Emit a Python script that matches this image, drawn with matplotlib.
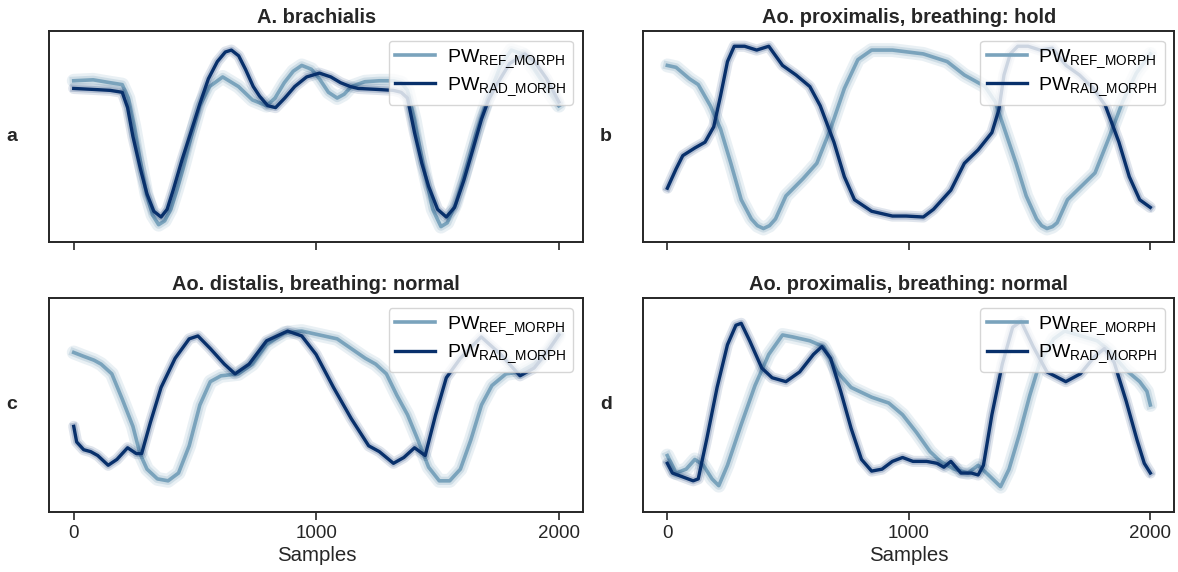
import matplotlib
matplotlib.use('Agg')
import matplotlib.pyplot as plt

plt.rcParams['font.family'] = ['Liberation Sans', 'DejaVu Sans']
plt.rcParams['mathtext.default'] = 'regular'

# sample positions / normalised amplitudes
a_ref_x = [0, 80, 150, 200, 225, 250, 275, 300, 325, 350, 375, 400, 425, 450, 485, 520, 560, 614, 679, 737, 795,
           830, 868, 905, 940, 980, 1013, 1050, 1086, 1115, 1144, 1200, 1260, 1318, 1350, 1376, 1405, 1430, 1449,
           1480, 1514, 1540, 1575, 1608, 1660, 1710, 1760, 1804, 1850, 1898, 1950, 2000]
a_ref_y = [0.79, 0.795, 0.78, 0.77, 0.70, 0.55, 0.37, 0.20, 0.09, 0.04, 0.06, 0.12, 0.22, 0.33, 0.50, 0.66, 0.76,
           0.81, 0.76, 0.69, 0.66, 0.70, 0.78, 0.84, 0.87, 0.85, 0.80, 0.73, 0.70, 0.72, 0.76, 0.785, 0.79, 0.79,
           0.78, 0.74, 0.59, 0.42, 0.30, 0.12, 0.03, 0.05, 0.15, 0.29, 0.52, 0.71, 0.87, 0.95, 0.93, 0.85, 0.75,
           0.66]
a_rad_x = [0, 80, 150, 200, 222, 244, 275, 302, 330, 360, 385, 410, 447, 485, 520, 555, 592, 625, 650, 680, 708,
           740, 766, 800, 832, 870, 911, 960, 1013, 1060, 1100, 1140, 1173, 1250, 1318, 1350, 1376, 1405, 1435,
           1463, 1500, 1536, 1570, 1608, 1645, 1681, 1710, 1739, 1797, 1860, 1900, 1950, 2000]
a_rad_y = [0.75, 0.745, 0.74, 0.73, 0.65, 0.50, 0.33, 0.20, 0.11, 0.08, 0.12, 0.22, 0.38, 0.53, 0.67, 0.80, 0.89,
           0.94, 0.95, 0.92, 0.85, 0.76, 0.71, 0.66, 0.65, 0.70, 0.76, 0.81, 0.83, 0.81, 0.78, 0.76, 0.75, 0.745,
           0.74, 0.73, 0.70, 0.52, 0.36, 0.24, 0.12, 0.08, 0.13, 0.27, 0.43, 0.59, 0.69, 0.76, 0.88, 0.93, 0.89,
           0.80, 0.68]

b_ref_x = [0, 36, 92, 128, 178, 220, 263, 306, 348, 373, 398, 423, 448, 491, 562, 619, 676, 733, 789, 846, 932,
           1060, 1159, 1230, 1273, 1316, 1358, 1401, 1444, 1486, 1529, 1550, 1572, 1595, 1614, 1657, 1714, 1771,
           1828, 1885, 1942, 2000]
b_ref_y = [0.87, 0.86, 0.80, 0.77, 0.66, 0.54, 0.36, 0.17, 0.07, 0.035, 0.02, 0.035, 0.07, 0.19, 0.28, 0.36, 0.54,
           0.75, 0.90, 0.95, 0.95, 0.93, 0.89, 0.82, 0.79, 0.76, 0.68, 0.52, 0.36, 0.19, 0.07, 0.035, 0.02, 0.03,
           0.05, 0.17, 0.24, 0.31, 0.49, 0.68, 0.83, 0.93]
b_rad_x = [0, 36, 64, 114, 156, 192, 220, 249, 277, 320, 370, 420, 477, 533, 590, 633, 690, 733, 775, 846, 932,
           989, 1060, 1102, 1174, 1230, 1287, 1344, 1373, 1394, 1420, 1451, 1494, 1544, 1594, 1651, 1707, 1764,
           1814, 1870, 1913, 1956, 2000]
b_rad_y = [0.23, 0.33, 0.40, 0.44, 0.47, 0.55, 0.71, 0.89, 0.97, 0.97, 0.95, 0.97, 0.87, 0.82, 0.76, 0.66, 0.47,
           0.29, 0.17, 0.11, 0.085, 0.085, 0.08, 0.12, 0.22, 0.36, 0.43, 0.52, 0.64, 0.82, 0.93, 0.97, 0.97, 0.95,
           0.96, 0.87, 0.82, 0.75, 0.66, 0.47, 0.29, 0.17, 0.13]

c_ref_x = [0, 41, 84, 113, 157, 200, 244, 273, 302, 345, 389, 432, 476, 520, 563, 607, 679, 737, 795, 868, 940,
           1013, 1086, 1144, 1202, 1245, 1289, 1332, 1376, 1419, 1463, 1507, 1550, 1594, 1637, 1681, 1724, 1782,
           1840, 1898, 1956, 2000]
c_ref_y = [0.77, 0.75, 0.73, 0.71, 0.66, 0.53, 0.39, 0.25, 0.17, 0.12, 0.11, 0.15, 0.29, 0.50, 0.62, 0.65, 0.66,
           0.71, 0.81, 0.87, 0.88, 0.86, 0.84, 0.79, 0.74, 0.71, 0.66, 0.55, 0.45, 0.32, 0.18, 0.11, 0.11, 0.17,
           0.32, 0.50, 0.60, 0.66, 0.67, 0.71, 0.78, 0.86]
c_rad_x = [0, 12, 41, 70, 99, 142, 178, 222, 258, 280, 316, 360, 418, 476, 512, 563, 621, 665, 723, 795, 882,
           940, 999, 1071, 1144, 1216, 1260, 1318, 1361, 1405, 1449, 1492, 1536, 1594, 1680, 1760, 1840, 1898,
           1956, 2000]
c_rad_y = [0.39, 0.31, 0.27, 0.26, 0.24, 0.19, 0.22, 0.28, 0.25, 0.25, 0.41, 0.59, 0.74, 0.84, 0.855, 0.79, 0.71,
           0.66, 0.71, 0.83, 0.88, 0.855, 0.76, 0.59, 0.43, 0.29, 0.26, 0.20, 0.23, 0.28, 0.24, 0.45, 0.64, 0.74,
           0.85, 0.76, 0.65, 0.69, 0.78, 0.86]

d_ref_x = [0, 36, 78, 114, 149, 185, 213, 249, 306, 363, 420, 477, 519, 590, 647, 704, 761, 846, 917, 974, 1031,
           1088, 1131, 1188, 1245, 1287, 1330, 1380, 1415, 1458, 1501, 1543, 1600, 1645, 1700, 1780, 1830, 1899,
           1956, 1986, 2000]
d_ref_y = [0.24, 0.15, 0.17, 0.22, 0.19, 0.12, 0.085, 0.19, 0.40, 0.60, 0.76, 0.86, 0.85, 0.83, 0.80, 0.67, 0.59,
           0.54, 0.51, 0.45, 0.36, 0.26, 0.21, 0.17, 0.15, 0.19, 0.14, 0.08, 0.17, 0.35, 0.55, 0.72, 0.84, 0.88,
           0.86, 0.83, 0.78, 0.68, 0.62, 0.57, 0.50]
d_rad_x = [0, 21, 64, 107, 128, 164, 206, 249, 284, 306, 341, 391, 434, 491, 548, 605, 640, 676, 718, 761, 804,
           846, 889, 932, 974, 1017, 1074, 1117, 1145, 1174, 1216, 1259, 1287, 1309, 1344, 1387, 1430, 1465, 1515,
           1572, 1650, 1710, 1770, 1810, 1850, 1900, 1945, 1975, 2000]
d_rad_y = [0.20, 0.15, 0.13, 0.11, 0.12, 0.33, 0.59, 0.81, 0.91, 0.92, 0.83, 0.69, 0.64, 0.62, 0.67, 0.76, 0.80,
           0.74, 0.57, 0.38, 0.22, 0.16, 0.17, 0.21, 0.23, 0.21, 0.21, 0.20, 0.18, 0.21, 0.15, 0.15, 0.14, 0.19,
           0.45, 0.71, 0.90, 0.93, 0.80, 0.67, 0.62, 0.66, 0.75, 0.79, 0.72, 0.52, 0.32, 0.20, 0.15]

titles = ['A. brachialis', 'Ao. proximalis, breathing: hold',
          'Ao. distalis, breathing: normal', 'Ao. proximalis, breathing: normal']
letters = ['a', 'b', 'c', 'd']
ref_col = '#7aa3bc'
rad_col = '#08306b'

fig = plt.figure(figsize=(11.78, 5.72), dpi=100)
rects = [[0.042, 0.577, 0.453, 0.369], [0.546, 0.577, 0.451, 0.369],
         [0.042, 0.105, 0.453, 0.374], [0.546, 0.105, 0.451, 0.374]]
series = [(a_ref_x, a_ref_y, a_rad_x, a_rad_y), (b_ref_x, b_ref_y, b_rad_x, b_rad_y),
          (c_ref_x, c_ref_y, c_rad_x, c_rad_y), (d_ref_x, d_ref_y, d_rad_x, d_rad_y)]

for i, (rx, ry, dx, dy) in enumerate(series):
    ax = fig.add_axes(rects[i])
    # faint halo standing in for the individual beats
    ax.plot(rx, ry, color=ref_col, lw=10, alpha=0.16, solid_joinstyle='round', solid_capstyle='round')
    ax.plot(rx, ry, color=ref_col, lw=6, alpha=0.25, solid_joinstyle='round')
    ax.plot(rx, ry, color=ref_col, lw=2.6, solid_joinstyle='round', label=r'PW$_{\mathregular{REF\_MORPH}}$')
    ax.plot(dx, dy, color=rad_col, lw=8, alpha=0.12, solid_joinstyle='round', solid_capstyle='round')
    ax.plot(dx, dy, color=rad_col, lw=5, alpha=0.2, solid_joinstyle='round')
    ax.plot(dx, dy, color=rad_col, lw=2.4, solid_joinstyle='round', label=r'PW$_{\mathregular{RAD\_MORPH}}$')
    ax.set_xlim(-100, 2100)
    ax.set_ylim(-0.05, 1.05)
    ax.set_yticks([])
    ax.set_xticks([0, 1000, 2000])
    ax.tick_params(axis='x', direction='out', length=6, width=1.2, color='#262626', labelsize=13.5,
                   labelcolor='#262626')
    for sp in ax.spines.values():
        sp.set_linewidth(1.4)
        sp.set_color('#262626')
    ax.set_title(titles[i], fontsize=14.4, fontweight='bold', color='#262626', pad=6)
    ax.text(-0.07, 0.5, letters[i], transform=ax.transAxes, fontsize=14, fontweight='bold',
            color='#262626', ha='center', va='center')
    ax.legend(loc='upper right', fontsize=14, handlelength=2.05, handletextpad=0.6, borderpad=0.35,
              labelspacing=0.3, framealpha=0.8, edgecolor='#cccccc')
    if i < 2:
        ax.set_xticklabels([])
    else:
        ax.set_xlabel('Samples', fontsize=14.7, color='#262626', labelpad=3)

fig.savefig('out.png', dpi=100)
